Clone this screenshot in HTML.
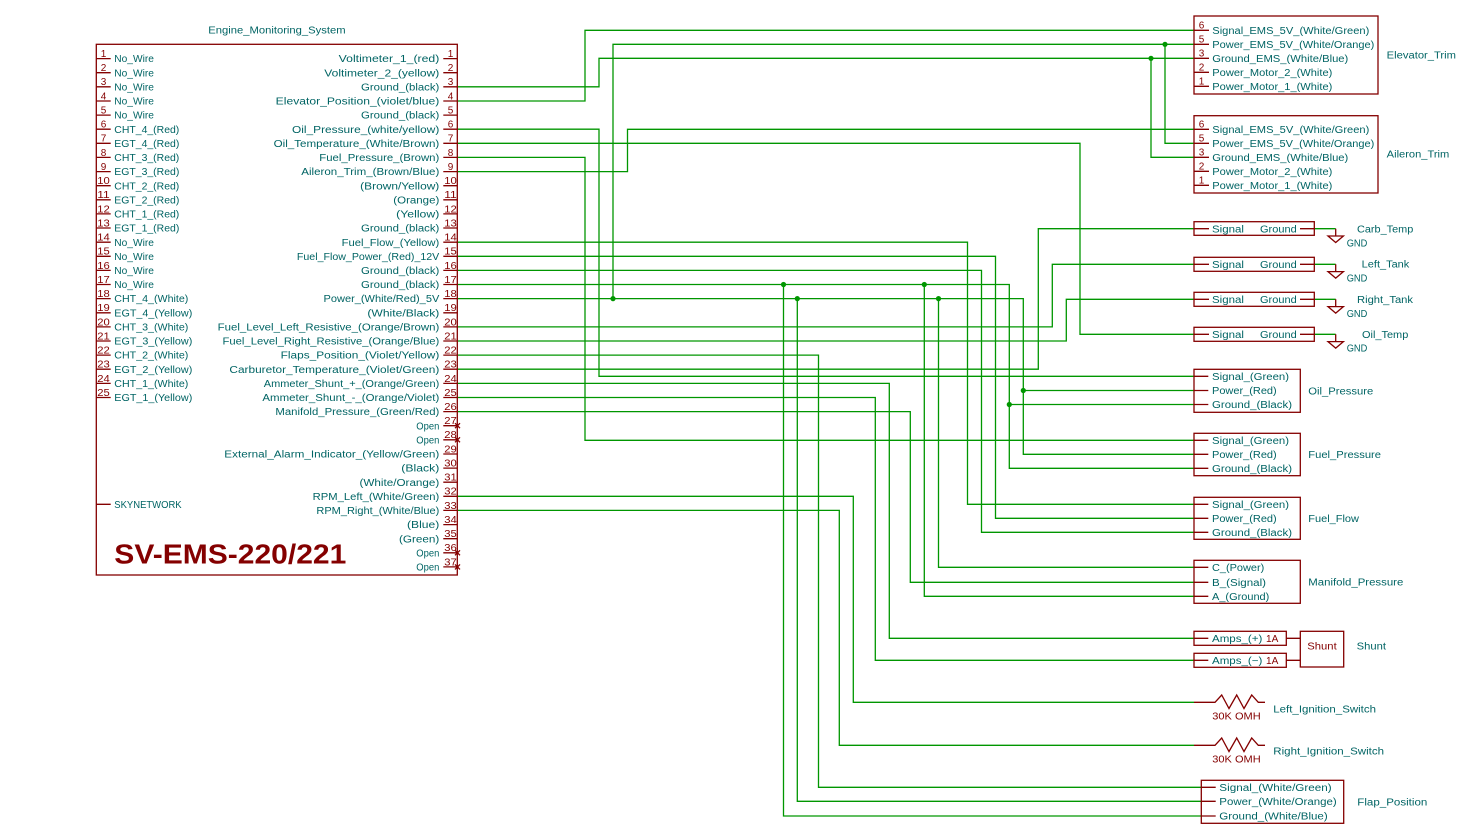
<!DOCTYPE html>
<html><head><meta charset="utf-8"><style>
html,body{margin:0;padding:0;background:#fff;}
svg{display:block;}
.w{stroke:#009600;stroke-width:1.3;fill:none;}
.r{stroke:#840000;stroke-width:1.3;fill:none;}
text{font-family:"Liberation Sans",sans-serif;font-size:10px;}
.t{fill:#006464;}
.n{fill:#840000;}
</style></head><body>
<svg width="1472" height="825" viewBox="0 0 1472 825" xmlns="http://www.w3.org/2000/svg">
<rect width="1472" height="825" fill="#fff"/>

<!-- Wires -->
<path class="w" d="
M457.3,86.8 H599 V58.3 H1194
M1151,58.3 V157.3 H1194
M457.3,101 H585 V30.3 H1194
M1194,44.3 H613 V298.6
M1165,44.3 V143.3 H1194
M457.3,129.2 H599 V376.3 H1194
M457.3,143.3 H1080 V334.3 H1194
M457.3,157.4 H585 V440.3 H1194
M457.3,171.6 H627.5 V129.3 H1194
M457.3,242.2 H967.5 V504.3 H1194
M457.3,256.3 H995.5 V518.3 H1194
M457.3,270.4 H981.5 V532.3 H1194
M457.3,284.5 H1009.3 V468.3 H1194
M783.5,284.5 V816 H1201.3
M924.3,284.5 V596.3 H1194
M1009.3,404.5 H1194
M457.3,298.6 H1023.3 V454.3 H1194
M797.3,298.6 V801.3 H1201.3
M938.5,298.6 V567.3 H1194
M1023.3,390.5 H1194
M457.3,326.9 H1052.3 V264.3 H1194
M457.3,341 H1066.3 V299.3 H1194
M457.3,355.1 H818.5 V787.3 H1201.3
M457.3,369.2 H1038.3 V228.7 H1194
M457.3,383.4 H889.3 V638.3 H1194
M457.3,397.5 H875.3 V660.3 H1194
M457.3,411.6 H910.3 V582.3 H1194
M457.3,496.3 H853.3 V702.3 H1194
M457.3,510.4 H839.3 V745.3 H1194
M1314.3,228.7 H1335.7
M1314.3,264.3 H1335.7
M1314.3,299.3 H1335.7
M1314.3,334.3 H1335.7
"/>
<g fill="#009600">
<circle cx="613" cy="298.6" r="2.6"/>
<circle cx="783.5" cy="284.5" r="2.6"/>
<circle cx="797.3" cy="298.6" r="2.6"/>
<circle cx="924.3" cy="284.5" r="2.6"/>
<circle cx="938.5" cy="298.6" r="2.6"/>
<circle cx="1009.3" cy="404.5" r="2.6"/>
<circle cx="1023.3" cy="390.5" r="2.6"/>
<circle cx="1151" cy="58.3" r="2.6"/>
<circle cx="1165" cy="44.3" r="2.6"/>
</g>

<!-- Main component -->
<text class="t" x="208.3" y="33.6" textLength="137.3" lengthAdjust="spacingAndGlyphs">Engine_Monitoring_System</text>
<rect class="r" x="96.3" y="44.3" width="361" height="530.7"/>
<path class="r" d="
M96.3,58.6H110.7 M96.3,72.7H110.7 M96.3,86.8H110.7 M96.3,101H110.7 M96.3,115.1H110.7
M96.3,129.2H110.7 M96.3,143.3H110.7 M96.3,157.4H110.7 M96.3,171.6H110.7 M96.3,185.7H110.7
M96.3,199.8H110.7 M96.3,213.9H110.7 M96.3,228H110.7 M96.3,242.2H110.7 M96.3,256.3H110.7
M96.3,270.4H110.7 M96.3,284.5H110.7 M96.3,298.6H110.7 M96.3,312.8H110.7 M96.3,326.9H110.7
M96.3,341H110.7 M96.3,355.1H110.7 M96.3,369.2H110.7 M96.3,383.4H110.7 M96.3,397.5H110.7
M96.3,504.3H110.7
M443.3,58.6H457.3 M443.3,72.7H457.3 M443.3,86.8H457.3 M443.3,101H457.3 M443.3,115.1H457.3
M443.3,129.2H457.3 M443.3,143.3H457.3 M443.3,157.4H457.3 M443.3,171.6H457.3 M443.3,185.7H457.3
M443.3,199.8H457.3 M443.3,213.9H457.3 M443.3,228H457.3 M443.3,242.2H457.3 M443.3,256.3H457.3
M443.3,270.4H457.3 M443.3,284.5H457.3 M443.3,298.6H457.3 M443.3,312.8H457.3 M443.3,326.9H457.3
M443.3,341H457.3 M443.3,355.1H457.3 M443.3,369.2H457.3 M443.3,383.4H457.3 M443.3,397.5H457.3
M443.3,411.6H457.3 M443.3,425.7H457.3 M443.3,439.8H457.3 M443.3,454H457.3 M443.3,468.1H457.3
M443.3,482.2H457.3 M443.3,496.3H457.3 M443.3,510.4H457.3 M443.3,524.6H457.3 M443.3,538.7H457.3
M443.3,552.8H457.3 M443.3,566.9H457.3
M455,423.2L460,428.2 M460,423.2L455,428.2
M455,437.3L460,442.3 M460,437.3L455,442.3
M455,550.3L460,555.3 M460,550.3L455,555.3
M455,564.4L460,569.4 M460,564.4L455,569.4
"/>

<!-- Left pin numbers -->
<g class="n" text-anchor="middle">
<text x="103.5" y="57">1</text><text x="103.5" y="71.1">2</text><text x="103.5" y="85.2">3</text><text x="103.5" y="99.4">4</text><text x="103.5" y="113.5">5</text>
<text x="103.5" y="127.6">6</text><text x="103.5" y="141.7">7</text><text x="103.5" y="155.8">8</text><text x="103.5" y="170">9</text>
<text x="103.5" y="184.1" textLength="12.5" lengthAdjust="spacingAndGlyphs">10</text>
<text x="103.5" y="198.2" textLength="12.5" lengthAdjust="spacingAndGlyphs">11</text>
<text x="103.5" y="212.3" textLength="12.5" lengthAdjust="spacingAndGlyphs">12</text>
<text x="103.5" y="226.4" textLength="12.5" lengthAdjust="spacingAndGlyphs">13</text>
<text x="103.5" y="240.6" textLength="12.5" lengthAdjust="spacingAndGlyphs">14</text>
<text x="103.5" y="254.7" textLength="12.5" lengthAdjust="spacingAndGlyphs">15</text>
<text x="103.5" y="268.8" textLength="12.5" lengthAdjust="spacingAndGlyphs">16</text>
<text x="103.5" y="282.9" textLength="12.5" lengthAdjust="spacingAndGlyphs">17</text>
<text x="103.5" y="297" textLength="12.5" lengthAdjust="spacingAndGlyphs">18</text>
<text x="103.5" y="311.2" textLength="12.5" lengthAdjust="spacingAndGlyphs">19</text>
<text x="103.5" y="325.3" textLength="12.5" lengthAdjust="spacingAndGlyphs">20</text>
<text x="103.5" y="339.4" textLength="12.5" lengthAdjust="spacingAndGlyphs">21</text>
<text x="103.5" y="353.5" textLength="12.5" lengthAdjust="spacingAndGlyphs">22</text>
<text x="103.5" y="367.6" textLength="12.5" lengthAdjust="spacingAndGlyphs">23</text>
<text x="103.5" y="381.8" textLength="12.5" lengthAdjust="spacingAndGlyphs">24</text>
<text x="103.5" y="395.9" textLength="12.5" lengthAdjust="spacingAndGlyphs">25</text>
</g>
<!-- Right pin numbers -->
<g class="n" text-anchor="middle">
<text x="450.5" y="57">1</text><text x="450.5" y="71.1">2</text><text x="450.5" y="85.2">3</text><text x="450.5" y="99.4">4</text><text x="450.5" y="113.5">5</text>
<text x="450.5" y="127.6">6</text><text x="450.5" y="141.7">7</text><text x="450.5" y="155.8">8</text><text x="450.5" y="170">9</text>
<text x="450.5" y="184.1" textLength="12.5" lengthAdjust="spacingAndGlyphs">10</text>
<text x="450.5" y="198.2" textLength="12.5" lengthAdjust="spacingAndGlyphs">11</text>
<text x="450.5" y="212.3" textLength="12.5" lengthAdjust="spacingAndGlyphs">12</text>
<text x="450.5" y="226.4" textLength="12.5" lengthAdjust="spacingAndGlyphs">13</text>
<text x="450.5" y="240.6" textLength="12.5" lengthAdjust="spacingAndGlyphs">14</text>
<text x="450.5" y="254.7" textLength="12.5" lengthAdjust="spacingAndGlyphs">15</text>
<text x="450.5" y="268.8" textLength="12.5" lengthAdjust="spacingAndGlyphs">16</text>
<text x="450.5" y="282.9" textLength="12.5" lengthAdjust="spacingAndGlyphs">17</text>
<text x="450.5" y="297" textLength="12.5" lengthAdjust="spacingAndGlyphs">18</text>
<text x="450.5" y="311.2" textLength="12.5" lengthAdjust="spacingAndGlyphs">19</text>
<text x="450.5" y="325.3" textLength="12.5" lengthAdjust="spacingAndGlyphs">20</text>
<text x="450.5" y="339.4" textLength="12.5" lengthAdjust="spacingAndGlyphs">21</text>
<text x="450.5" y="353.5" textLength="12.5" lengthAdjust="spacingAndGlyphs">22</text>
<text x="450.5" y="367.6" textLength="12.5" lengthAdjust="spacingAndGlyphs">23</text>
<text x="450.5" y="381.8" textLength="12.5" lengthAdjust="spacingAndGlyphs">24</text>
<text x="450.5" y="395.9" textLength="12.5" lengthAdjust="spacingAndGlyphs">25</text>
<text x="450.5" y="410" textLength="12.5" lengthAdjust="spacingAndGlyphs">26</text>
<text x="450.5" y="424.1" textLength="12.5" lengthAdjust="spacingAndGlyphs">27</text>
<text x="450.5" y="438.2" textLength="12.5" lengthAdjust="spacingAndGlyphs">28</text>
<text x="450.5" y="452.4" textLength="12.5" lengthAdjust="spacingAndGlyphs">29</text>
<text x="450.5" y="466.5" textLength="12.5" lengthAdjust="spacingAndGlyphs">30</text>
<text x="450.5" y="480.6" textLength="12.5" lengthAdjust="spacingAndGlyphs">31</text>
<text x="450.5" y="494.7" textLength="12.5" lengthAdjust="spacingAndGlyphs">32</text>
<text x="450.5" y="508.8" textLength="12.5" lengthAdjust="spacingAndGlyphs">33</text>
<text x="450.5" y="523" textLength="12.5" lengthAdjust="spacingAndGlyphs">34</text>
<text x="450.5" y="537.1" textLength="12.5" lengthAdjust="spacingAndGlyphs">35</text>
<text x="450.5" y="551.2" textLength="12.5" lengthAdjust="spacingAndGlyphs">36</text>
<text x="450.5" y="565.3" textLength="12.5" lengthAdjust="spacingAndGlyphs">37</text>
</g>

<!-- Left pin names -->
<g class="t">
<text x="114.3" y="62.2" textLength="39.6" lengthAdjust="spacingAndGlyphs">No_Wire</text>
<text x="114.3" y="76.3" textLength="39.6" lengthAdjust="spacingAndGlyphs">No_Wire</text>
<text x="114.3" y="90.4" textLength="39.6" lengthAdjust="spacingAndGlyphs">No_Wire</text>
<text x="114.3" y="104.6" textLength="39.6" lengthAdjust="spacingAndGlyphs">No_Wire</text>
<text x="114.3" y="118.7" textLength="39.6" lengthAdjust="spacingAndGlyphs">No_Wire</text>
<text x="114.3" y="132.8" textLength="65" lengthAdjust="spacingAndGlyphs">CHT_4_(Red)</text>
<text x="114.3" y="146.9" textLength="65" lengthAdjust="spacingAndGlyphs">EGT_4_(Red)</text>
<text x="114.3" y="161" textLength="65" lengthAdjust="spacingAndGlyphs">CHT_3_(Red)</text>
<text x="114.3" y="175.2" textLength="65" lengthAdjust="spacingAndGlyphs">EGT_3_(Red)</text>
<text x="114.3" y="189.3" textLength="65" lengthAdjust="spacingAndGlyphs">CHT_2_(Red)</text>
<text x="114.3" y="203.4" textLength="65" lengthAdjust="spacingAndGlyphs">EGT_2_(Red)</text>
<text x="114.3" y="217.5" textLength="65" lengthAdjust="spacingAndGlyphs">CHT_1_(Red)</text>
<text x="114.3" y="231.6" textLength="65" lengthAdjust="spacingAndGlyphs">EGT_1_(Red)</text>
<text x="114.3" y="245.8" textLength="39.6" lengthAdjust="spacingAndGlyphs">No_Wire</text>
<text x="114.3" y="259.9" textLength="39.6" lengthAdjust="spacingAndGlyphs">No_Wire</text>
<text x="114.3" y="274" textLength="39.6" lengthAdjust="spacingAndGlyphs">No_Wire</text>
<text x="114.3" y="288.1" textLength="39.6" lengthAdjust="spacingAndGlyphs">No_Wire</text>
<text x="114.3" y="302.2" textLength="74" lengthAdjust="spacingAndGlyphs">CHT_4_(White)</text>
<text x="114.3" y="316.4" textLength="78" lengthAdjust="spacingAndGlyphs">EGT_4_(Yellow)</text>
<text x="114.3" y="330.5" textLength="74" lengthAdjust="spacingAndGlyphs">CHT_3_(White)</text>
<text x="114.3" y="344.6" textLength="78" lengthAdjust="spacingAndGlyphs">EGT_3_(Yellow)</text>
<text x="114.3" y="358.7" textLength="74" lengthAdjust="spacingAndGlyphs">CHT_2_(White)</text>
<text x="114.3" y="372.8" textLength="78" lengthAdjust="spacingAndGlyphs">EGT_2_(Yellow)</text>
<text x="114.3" y="387" textLength="74" lengthAdjust="spacingAndGlyphs">CHT_1_(White)</text>
<text x="114.3" y="401.1" textLength="78" lengthAdjust="spacingAndGlyphs">EGT_1_(Yellow)</text>
<text x="114.3" y="507.9" textLength="67.3" lengthAdjust="spacingAndGlyphs">SKYNETWORK</text>
</g>

<!-- Right pin names -->
<g class="t" text-anchor="end">
<text x="439.3" y="62.2" textLength="100.6" lengthAdjust="spacingAndGlyphs">Voltimeter_1_(red)</text>
<text x="439.3" y="76.3" textLength="115" lengthAdjust="spacingAndGlyphs">Voltimeter_2_(yellow)</text>
<text x="439.3" y="90.4" textLength="78.3" lengthAdjust="spacingAndGlyphs">Ground_(black)</text>
<text x="439.3" y="104.6" textLength="163.6" lengthAdjust="spacingAndGlyphs">Elevator_Position_(violet/blue)</text>
<text x="439.3" y="118.7" textLength="78.3" lengthAdjust="spacingAndGlyphs">Ground_(black)</text>
<text x="439.3" y="132.8" textLength="147.3" lengthAdjust="spacingAndGlyphs">Oil_Pressure_(white/yellow)</text>
<text x="439.3" y="146.9" textLength="165.7" lengthAdjust="spacingAndGlyphs">Oil_Temperature_(White/Brown)</text>
<text x="439.3" y="161" textLength="120" lengthAdjust="spacingAndGlyphs">Fuel_Pressure_(Brown)</text>
<text x="439.3" y="175.2" textLength="138" lengthAdjust="spacingAndGlyphs">Aileron_Trim_(Brown/Blue)</text>
<text x="439.3" y="189.3" textLength="79.1" lengthAdjust="spacingAndGlyphs">(Brown/Yellow)</text>
<text x="439.3" y="203.4" textLength="46" lengthAdjust="spacingAndGlyphs">(Orange)</text>
<text x="439.3" y="217.5" textLength="43.1" lengthAdjust="spacingAndGlyphs">(Yellow)</text>
<text x="439.3" y="231.6" textLength="78.3" lengthAdjust="spacingAndGlyphs">Ground_(black)</text>
<text x="439.3" y="245.8" textLength="97.7" lengthAdjust="spacingAndGlyphs">Fuel_Flow_(Yellow)</text>
<text x="439.3" y="259.9" textLength="142.4" lengthAdjust="spacingAndGlyphs">Fuel_Flow_Power_(Red)_12V</text>
<text x="439.3" y="274" textLength="78.3" lengthAdjust="spacingAndGlyphs">Ground_(black)</text>
<text x="439.3" y="288.1" textLength="78.3" lengthAdjust="spacingAndGlyphs">Ground_(black)</text>
<text x="439.3" y="302.2" textLength="115.8" lengthAdjust="spacingAndGlyphs">Power_(White/Red)_5V</text>
<text x="439.3" y="316.4" textLength="71.9" lengthAdjust="spacingAndGlyphs">(White/Black)</text>
<text x="439.3" y="330.5" textLength="221.6" lengthAdjust="spacingAndGlyphs">Fuel_Level_Left_Resistive_(Orange/Brown)</text>
<text x="439.3" y="344.6" textLength="216.8" lengthAdjust="spacingAndGlyphs">Fuel_Level_Right_Resistive_(Orange/Blue)</text>
<text x="439.3" y="358.7" textLength="158.6" lengthAdjust="spacingAndGlyphs">Flaps_Position_(Violet/Yellow)</text>
<text x="439.3" y="372.8" textLength="209.9" lengthAdjust="spacingAndGlyphs">Carburetor_Temperature_(Violet/Green)</text>
<text x="439.3" y="387" textLength="175.5" lengthAdjust="spacingAndGlyphs">Ammeter_Shunt_+_(Orange/Green)</text>
<text x="439.3" y="401.1" textLength="176.9" lengthAdjust="spacingAndGlyphs">Ammeter_Shunt_-_(Orange/Violet)</text>
<text x="439.3" y="415.2" textLength="163.9" lengthAdjust="spacingAndGlyphs">Manifold_Pressure_(Green/Red)</text>
<text x="439.3" y="429.3" textLength="23" lengthAdjust="spacingAndGlyphs">Open</text>
<text x="439.3" y="443.4" textLength="23" lengthAdjust="spacingAndGlyphs">Open</text>
<text x="439.3" y="457.6" textLength="215" lengthAdjust="spacingAndGlyphs">External_Alarm_Indicator_(Yellow/Green)</text>
<text x="439.3" y="471.7" textLength="38" lengthAdjust="spacingAndGlyphs">(Black)</text>
<text x="439.3" y="485.8" textLength="79.8" lengthAdjust="spacingAndGlyphs">(White/Orange)</text>
<text x="439.3" y="499.9" textLength="126.6" lengthAdjust="spacingAndGlyphs">RPM_Left_(White/Green)</text>
<text x="439.3" y="514" textLength="122.9" lengthAdjust="spacingAndGlyphs">RPM_Right_(White/Blue)</text>
<text x="439.3" y="528.2" textLength="32.3" lengthAdjust="spacingAndGlyphs">(Blue)</text>
<text x="439.3" y="542.3" textLength="40.3" lengthAdjust="spacingAndGlyphs">(Green)</text>
<text x="439.3" y="556.4" textLength="23" lengthAdjust="spacingAndGlyphs">Open</text>
<text x="439.3" y="570.5" textLength="23" lengthAdjust="spacingAndGlyphs">Open</text>
</g>

<text x="114.3" y="563.3" fill="#840000" style="font-size:28px;font-weight:bold" textLength="232" lengthAdjust="spacingAndGlyphs">SV-EMS-220/221</text>

<!-- Elevator / Aileron trim -->
<rect class="r" x="1194" y="16" width="184" height="78"/>
<rect class="r" x="1194" y="115.7" width="184" height="77.3"/>
<path class="r" d="M1194,30.3H1209 M1194,44.3H1209 M1194,58.3H1209 M1194,72.3H1209 M1194,86.3H1209
M1194,129.3H1209 M1194,143.3H1209 M1194,157.3H1209 M1194,171.3H1209 M1194,185.3H1209"/>
<g class="n" text-anchor="middle">
<text x="1201.5" y="28.7">6</text><text x="1201.5" y="42.7">5</text><text x="1201.5" y="56.7">3</text><text x="1201.5" y="70.7">2</text><text x="1201.5" y="84.7">1</text>
<text x="1201.5" y="127.7">6</text><text x="1201.5" y="141.7">5</text><text x="1201.5" y="155.7">3</text><text x="1201.5" y="169.7">2</text><text x="1201.5" y="183.7">1</text>
</g>
<g class="t">
<text x="1212.3" y="33.9" textLength="157" lengthAdjust="spacingAndGlyphs">Signal_EMS_5V_(White/Green)</text>
<text x="1212.3" y="47.9" textLength="162" lengthAdjust="spacingAndGlyphs">Power_EMS_5V_(White/Orange)</text>
<text x="1212.3" y="61.9" textLength="136" lengthAdjust="spacingAndGlyphs">Ground_EMS_(White/Blue)</text>
<text x="1212.3" y="75.9" textLength="120" lengthAdjust="spacingAndGlyphs">Power_Motor_2_(White)</text>
<text x="1212.3" y="89.9" textLength="120" lengthAdjust="spacingAndGlyphs">Power_Motor_1_(White)</text>
<text x="1386.7" y="58.6" textLength="69.3" lengthAdjust="spacingAndGlyphs">Elevator_Trim</text>
<text x="1212.3" y="132.9" textLength="157" lengthAdjust="spacingAndGlyphs">Signal_EMS_5V_(White/Green)</text>
<text x="1212.3" y="146.9" textLength="162" lengthAdjust="spacingAndGlyphs">Power_EMS_5V_(White/Orange)</text>
<text x="1212.3" y="160.9" textLength="136" lengthAdjust="spacingAndGlyphs">Ground_EMS_(White/Blue)</text>
<text x="1212.3" y="174.9" textLength="120" lengthAdjust="spacingAndGlyphs">Power_Motor_2_(White)</text>
<text x="1212.3" y="188.9" textLength="120" lengthAdjust="spacingAndGlyphs">Power_Motor_1_(White)</text>
<text x="1386.7" y="157.6" textLength="62.6" lengthAdjust="spacingAndGlyphs">Aileron_Trim</text>
</g>

<!-- Temp / tank sensors -->
<g class="r">
<rect x="1194" y="221.7" width="120.3" height="13.6"/>
<rect x="1194" y="257.3" width="120.3" height="14"/>
<rect x="1194" y="292.3" width="120.3" height="14"/>
<rect x="1194" y="327.3" width="120.3" height="14"/>
<path d="M1194,228.7H1209 M1300,228.7H1314.3 M1194,264.3H1209 M1300,264.3H1314.3 M1194,299.3H1209 M1300,299.3H1314.3 M1194,334.3H1209 M1300,334.3H1314.3"/>
<path d="M1335.7,228.7V236 M1328,236H1343.4L1335.7,242.5Z
M1335.7,264.3V271.6 M1328,271.6H1343.4L1335.7,278.1Z
M1335.7,299.3V306.6 M1328,306.6H1343.4L1335.7,313.1Z
M1335.7,334.3V341.6 M1328,341.6H1343.4L1335.7,348.1Z"/>
</g>
<g class="t">
<text x="1212" y="232.3" textLength="32" lengthAdjust="spacingAndGlyphs">Signal</text>
<text x="1260" y="232.3" textLength="36.7" lengthAdjust="spacingAndGlyphs">Ground</text>
<text x="1212" y="267.9" textLength="32" lengthAdjust="spacingAndGlyphs">Signal</text>
<text x="1260" y="267.9" textLength="36.7" lengthAdjust="spacingAndGlyphs">Ground</text>
<text x="1212" y="302.9" textLength="32" lengthAdjust="spacingAndGlyphs">Signal</text>
<text x="1260" y="302.9" textLength="36.7" lengthAdjust="spacingAndGlyphs">Ground</text>
<text x="1212" y="337.9" textLength="32" lengthAdjust="spacingAndGlyphs">Signal</text>
<text x="1260" y="337.9" textLength="36.7" lengthAdjust="spacingAndGlyphs">Ground</text>
<text x="1357" y="232.3" textLength="56.3" lengthAdjust="spacingAndGlyphs">Carb_Temp</text>
<text x="1361.7" y="267.6" textLength="47.6" lengthAdjust="spacingAndGlyphs">Left_Tank</text>
<text x="1357" y="302.9" textLength="56" lengthAdjust="spacingAndGlyphs">Right_Tank</text>
<text x="1362" y="337.9" textLength="46.3" lengthAdjust="spacingAndGlyphs">Oil_Temp</text>
<text x="1346.7" y="246.3" textLength="20.6" lengthAdjust="spacingAndGlyphs">GND</text>
<text x="1346.7" y="281.6" textLength="20.6" lengthAdjust="spacingAndGlyphs">GND</text>
<text x="1346.7" y="316.9" textLength="20.6" lengthAdjust="spacingAndGlyphs">GND</text>
<text x="1346.7" y="351.3" textLength="20.6" lengthAdjust="spacingAndGlyphs">GND</text>
</g>

<!-- 3-wire sensors -->
<g class="r">
<rect x="1194" y="369.3" width="106.3" height="43"/>
<rect x="1194" y="433.3" width="106.3" height="42.4"/>
<rect x="1194" y="497.3" width="106.3" height="42"/>
<rect x="1194" y="560.3" width="106.3" height="43"/>
<path d="M1194,376.3H1208.3 M1194,390.5H1208.3 M1194,404.5H1208.3
M1194,440.3H1208.3 M1194,454.3H1208.3 M1194,468.3H1208.3
M1194,504.3H1208.3 M1194,518.3H1208.3 M1194,532.3H1208.3
M1194,567.3H1208.3 M1194,582.3H1208.3 M1194,596.3H1208.3"/>
</g>
<g class="t">
<text x="1212" y="379.9" textLength="77" lengthAdjust="spacingAndGlyphs">Signal_(Green)</text>
<text x="1212" y="394.1" textLength="64.7" lengthAdjust="spacingAndGlyphs">Power_(Red)</text>
<text x="1212" y="408.1" textLength="80" lengthAdjust="spacingAndGlyphs">Ground_(Black)</text>
<text x="1308.3" y="394.3" textLength="65" lengthAdjust="spacingAndGlyphs">Oil_Pressure</text>
<text x="1212" y="443.9" textLength="77" lengthAdjust="spacingAndGlyphs">Signal_(Green)</text>
<text x="1212" y="457.9" textLength="64.7" lengthAdjust="spacingAndGlyphs">Power_(Red)</text>
<text x="1212" y="471.9" textLength="80" lengthAdjust="spacingAndGlyphs">Ground_(Black)</text>
<text x="1308.3" y="457.9" textLength="72.7" lengthAdjust="spacingAndGlyphs">Fuel_Pressure</text>
<text x="1212" y="507.9" textLength="77" lengthAdjust="spacingAndGlyphs">Signal_(Green)</text>
<text x="1212" y="521.9" textLength="64.7" lengthAdjust="spacingAndGlyphs">Power_(Red)</text>
<text x="1212" y="535.9" textLength="80" lengthAdjust="spacingAndGlyphs">Ground_(Black)</text>
<text x="1308.3" y="521.9" textLength="50.7" lengthAdjust="spacingAndGlyphs">Fuel_Flow</text>
<text x="1212" y="570.9" textLength="52.3" lengthAdjust="spacingAndGlyphs">C_(Power)</text>
<text x="1212" y="585.9" textLength="54" lengthAdjust="spacingAndGlyphs">B_(Signal)</text>
<text x="1212" y="599.9" textLength="57.3" lengthAdjust="spacingAndGlyphs">A_(Ground)</text>
<text x="1308.3" y="585.6" textLength="95" lengthAdjust="spacingAndGlyphs">Manifold_Pressure</text>
</g>

<!-- Shunt -->
<g class="r">
<rect x="1194" y="631.3" width="92.3" height="14"/>
<rect x="1194" y="653.3" width="92.3" height="14"/>
<rect x="1300.3" y="631.3" width="43.4" height="35.7"/>
<path d="M1194,638.3H1208.3 M1194,660.3H1208.3 M1286.3,638.3H1300.3 M1286.3,660.3H1300.3"/>
</g>
<text class="t" x="1212" y="641.9" textLength="50.3" lengthAdjust="spacingAndGlyphs">Amps_(+)</text>
<text class="n" x="1266" y="641.9" textLength="12.3" lengthAdjust="spacingAndGlyphs">1A</text>
<text class="t" x="1212" y="663.9" textLength="50.3" lengthAdjust="spacingAndGlyphs">Amps_(−)</text>
<text class="n" x="1266" y="663.9" textLength="12.3" lengthAdjust="spacingAndGlyphs">1A</text>
<text class="n" x="1307.3" y="649.3" textLength="29.4" lengthAdjust="spacingAndGlyphs">Shunt</text>
<text class="t" x="1356.7" y="649.3" textLength="29.3" lengthAdjust="spacingAndGlyphs">Shunt</text>

<!-- Resistors -->
<path class="r" d="M1194,702.3H1215 L1221.7,695 L1229,708.5 L1236.7,695 L1244,708.5 L1251.7,695 L1258.3,702.3 H1265"/>
<path class="r" d="M1194,745.3H1215 L1221.7,738 L1229,751.5 L1236.7,738 L1244,751.5 L1251.7,738 L1258.3,745.3 H1265"/>
<text class="n" x="1212.3" y="719.3" textLength="48.4" lengthAdjust="spacingAndGlyphs">30K OMH</text>
<text class="n" x="1212.3" y="762.6" textLength="48.4" lengthAdjust="spacingAndGlyphs">30K OMH</text>
<text class="t" x="1273.3" y="712.6" textLength="102.7" lengthAdjust="spacingAndGlyphs">Left_Ignition_Switch</text>
<text class="t" x="1273.3" y="754.6" textLength="110.7" lengthAdjust="spacingAndGlyphs">Right_Ignition_Switch</text>

<!-- Flap position -->
<rect class="r" x="1201.3" y="780.3" width="142.4" height="43"/>
<path class="r" d="M1201.3,787.3H1215.7 M1201.3,801.3H1215.7 M1201.3,816H1215.7"/>
<g class="t">
<text x="1219.3" y="790.9" textLength="112.4" lengthAdjust="spacingAndGlyphs">Signal_(White/Green)</text>
<text x="1219.3" y="804.9" textLength="117.4" lengthAdjust="spacingAndGlyphs">Power_(White/Orange)</text>
<text x="1219.3" y="819.6" textLength="108.4" lengthAdjust="spacingAndGlyphs">Ground_(White/Blue)</text>
<text x="1357.3" y="805.3" textLength="70" lengthAdjust="spacingAndGlyphs">Flap_Position</text>
</g>
</svg>
</body></html>
